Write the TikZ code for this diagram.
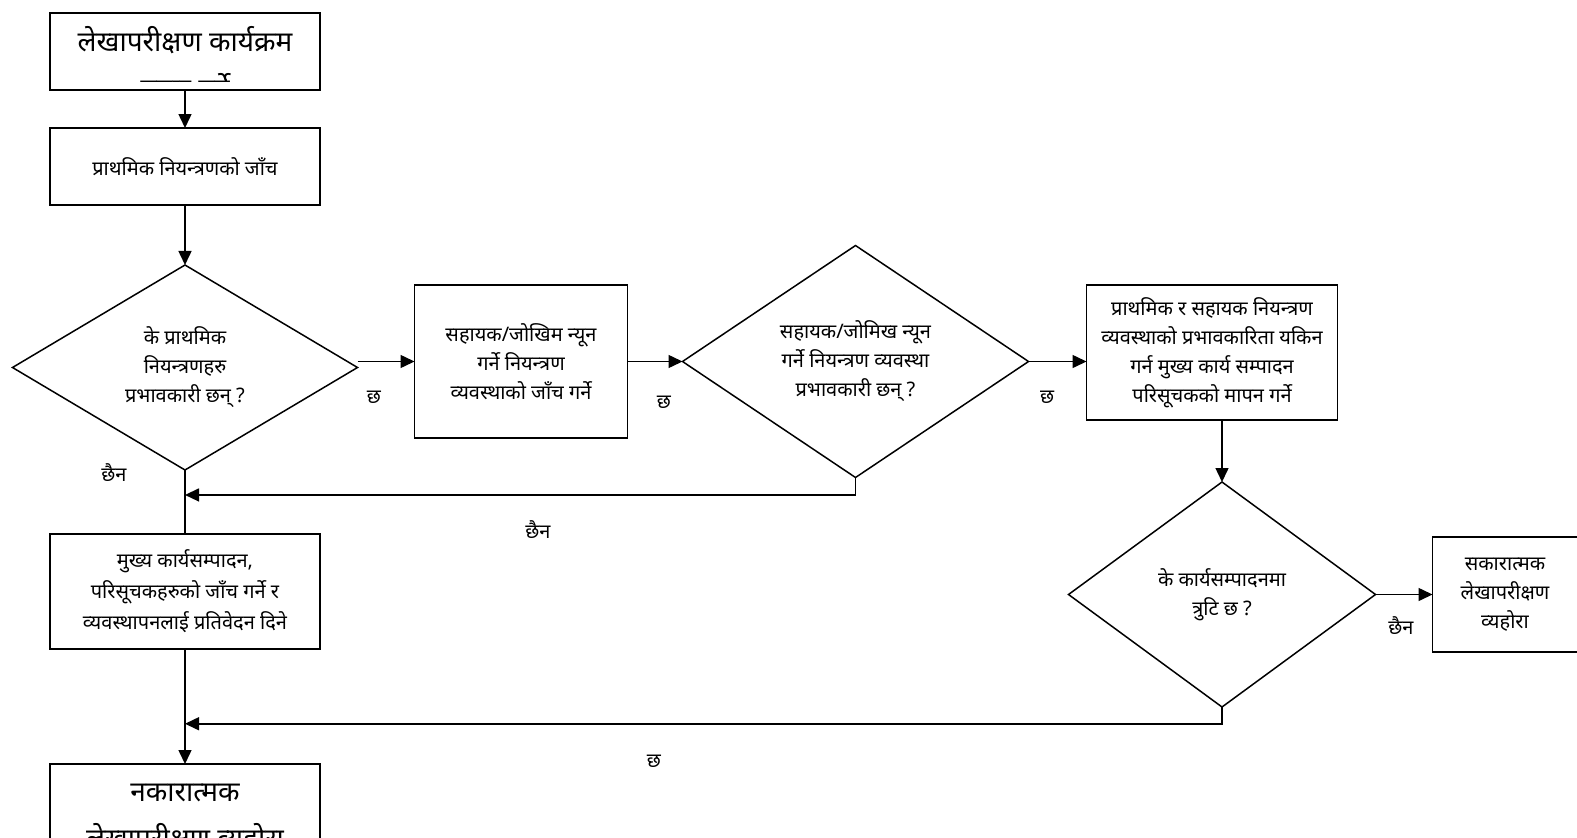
\documentclass[tikz,border=0pt]{standalone}
\usepackage{fontspec}
\newfontfamily\devfont[Script=Devanagari]{Noto Sans}
\usepackage{tikz}
\usetikzlibrary{shapes.geometric,positioning,calc,arrows.meta}

\begin{document}
\begin{tikzpicture}[
    x=1pt, y=-1pt,
    box/.style={draw, line width=1.5pt, outer sep=0pt, inner sep=0pt, align=center, font=\devfont\fontsize{20}{29}\selectfont},
    decision/.style={draw, diamond, line width=1.5pt, outer sep=0pt, inner sep=0pt, align=center, font=\devfont\fontsize{20}{29}\selectfont},
    bigtext/.style={align=center, inner sep=0pt, font=\devfont\fontsize{28}{47}\selectfont},
    lbl/.style={inner sep=0pt, font=\devfont\fontsize{20}{22}\selectfont},
    arrow/.style={-{Triangle[length=14pt,width=13pt]}, line width=1.5pt},
    line/.style={line width=1.5pt}
]
\clip (0,0) rectangle (1577,838);

% Start
\node[box, minimum width=270pt, minimum height=77pt] (plan) at (185,51.5) {};
\begin{scope}
  \clip (plan.north west) rectangle ([yshift=9pt]plan.south east);
  \node[bigtext, anchor=north] (plantext) at ([yshift=-13pt]plan.north) {लेखापरीक्षण कार्यक्रम\\तयार गर्ने};
\end{scope}

% Primary controls
\node[box, minimum width=270pt, minimum height=77pt, below=38pt of plan] (check) {प्राथमिक नियन्त्रणको जाँच};
\node[decision, minimum width=345pt, minimum height=205pt, below=60pt of check] (dec1) {के प्राथमिक\\नियन्त्रणहरु\\प्रभावकारी छन् ?};

\draw[arrow] (plan) -- (check);
\draw[arrow] (check) -- (dec1);

% Secondary controls
\node[box, minimum width=213pt, minimum height=153pt, right=57pt of dec1, yshift=6pt] (aux) {सहायक/जोखिम न्यून\\गर्ने नियन्त्रण\\व्यवस्थाको जाँच गर्ने};
\node[decision, minimum width=346pt, minimum height=230pt, right=55pt of aux] (dec2) {सहायक/जोमिख न्यून\\गर्ने नियन्त्रण व्यवस्था\\प्रभावकारी छन् ?};

\draw[arrow] (dec1.east |- aux.west) -- (aux.west);
\draw[arrow] (aux) -- (dec2);

% Performance indicators
\node[box, minimum width=251pt, minimum height=135pt, right=58pt of dec2, yshift=9pt] (meas) {प्राथमिक र सहायक नियन्त्रण\\व्यवस्थाको प्रभावकारिता यकिन\\गर्न मुख्य कार्य सम्पादन\\परिसूचकको मापन गर्ने};
\node[decision, minimum width=307pt, minimum height=225pt, below=62pt of meas, xshift=10pt] (dec3) {के कार्यसम्पादनमा\\त्रुटि छ ?};
\node[box, minimum width=145pt, minimum height=115pt, right=57pt of dec3] (pos) {सकारात्मक\\लेखापरीक्षण\\व्यहोरा};

\draw[arrow] (dec2.east) -- (dec2.east -| meas.west);
\draw[arrow] (meas.south -| dec3.north) -- (dec3.north);
\draw[arrow] (dec3.east) -- (dec3.east -| pos.west);

% Report and result
\node[box, minimum width=270pt, minimum height=115pt, below=64pt of dec1, font=\devfont\fontsize{20}{31}\selectfont] (report) {मुख्य कार्यसम्पादन,\\परिसूचकहरुको जाँच गर्ने र\\व्यवस्थापनलाई प्रतिवेदन दिने};
\node[box, minimum width=270pt, minimum height=77pt, below=115pt of report] (neg) {};
\node[bigtext, anchor=north] (negtext) at ([yshift=-20pt]neg.north) {नकारात्मक\\लेखापरीक्षण व्यहोरा};

\coordinate (join1) at ($(dec1.south)!0.39!(report.north)$);
\coordinate (join2) at ($(report.south)!0.65!(neg.north)$);

\draw[line] (dec1.south) -- (report.north);
\draw[arrow] (dec2.south) |- (join1);
\draw[arrow] (report) -- (neg);
\draw[arrow] (dec3.south) |- (join2);

% Labels
\node[lbl] (yes1) at (374,397) {छ};
\node[lbl] (yes2) at (664,402) {छ};
\node[lbl] (yes3) at (1047,397) {छ};
\node[lbl] (yes4) at (654,761) {छ};
\node[lbl] (no1) at (114,473) {छैन};
\node[lbl] (no2) at (538,530) {छैन};
\node[lbl] (no3) at (1401,626) {छैन};

\end{tikzpicture}
\end{document}
